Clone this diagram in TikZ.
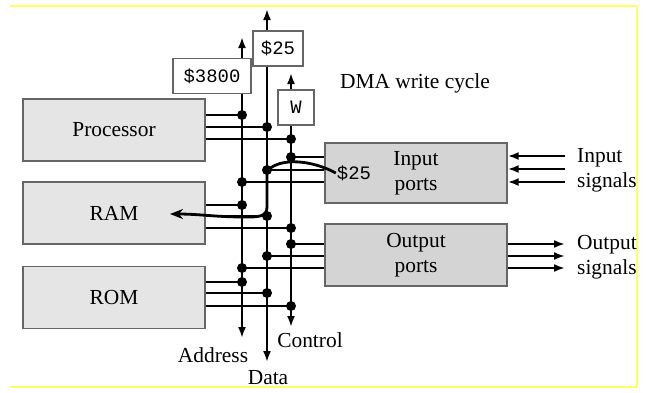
\documentclass[tikz,border=0pt]{standalone}
\usepackage{fontspec}
\setmainfont{Liberation Serif}
\setmonofont{Liberation Mono}
\usetikzlibrary{arrows.meta}
\definecolor{frameYellow}{HTML}{FFFF66}

\begin{document}
\begin{tikzpicture}
[x=1bp,y=-1bp,
  font=\fontsize{21.5}{25}\selectfont,
  boxDecorate/.style={draw=black!60,fill=black!10,line width=1.3bp,minimum width=182bp,minimum height=62bp},
  portDecorate/.style={boxDecorate,fill=black!17,align=center},
  tagDecorate/.style={draw=black!60,fill=white,line width=1.3bp,minimum height=35bp,inner sep=0pt,
    font=\fontsize{19}{22}\selectfont\ttfamily},
  busDecorate/.style={{Latex[length=11bp,width=8bp]}-{Latex[length=11bp,width=8bp]},line width=2.1bp},
  lineDecorate/.style={line width=2.1bp},
  signalDecorate/.style={-{Latex[length=11bp,width=8bp]},line width=2.1bp},
  flowDecorate/.style={-{Stealth[length=13bp,width=10bp]},line width=2.8bp},
  dotDecorate/.style={circle,fill,inner sep=0pt,minimum size=10bp}]
\useasboundingbox (0,0) rectangle (654,392);
%% frame
\draw[frameYellow,line width=2bp] (10,6) -- (637,6) -- (637,387) -- (10,387);
%% units
\foreach \nodename/\nodetext/\y in {
  proc/Processor/130, ram/RAM/213, rom/ROM/297.5}
{
  \node (\nodename) at (114,\y) [boxDecorate] {\nodetext};
}
\node (inp) at (416,173) [portDecorate,minimum height=60bp] {Input\\ports};
\node (outp) at (416,255) [portDecorate] {Output\\ports};
%% buses
\foreach \busname/\x/\ytop/\ybot in {
  addr/242/37/338, data/267/9/362, ctrl/291/73/327}
{
  \coordinate (\busname Top) at (\x,\ytop);
  \coordinate (\busname Bot) at (\x,\ybot);
  \draw[busDecorate] (\busname Bot) -- (\busname Top);
}
\node (tagAddr) at (212,76) [tagDecorate,minimum width=78bp] {\$3800};
\node (tagData) at (278,48.5) [tagDecorate,minimum width=50bp] {\$25};
\node (tagCtrl) at (296,107.5) [tagDecorate,minimum width=36bp] {W};
%% taps from units to buses
\foreach \src/\bus/\y in {
  proc/addr/115, proc/data/127, proc/ctrl/139,
  ram/addr/205, ram/data/216, ram/ctrl/228,
  rom/addr/282, rom/data/293, rom/ctrl/306}
{
  \draw[lineDecorate] (\src.east |- 0,\y) -- (\bus Top |- 0,\y);
  \node at (\bus Top |- 0,\y) [dotDecorate] {};
}
%% taps from buses to ports
\foreach \dst/\bus/\y in {
  inp/ctrl/157, inp/data/170, inp/addr/182,
  outp/ctrl/244, outp/data/256, outp/addr/268}
{
  \draw[lineDecorate] (\bus Top |- 0,\y) -- (\dst.west |- 0,\y);
  \node at (\bus Top |- 0,\y) [dotDecorate] {};
}
%% outside signals
\coordinate (sigEnd) at (565,0);
\foreach \y in {156,169,182}
{
  \draw[signalDecorate] (sigEnd |- 0,\y) -- (inp.east |- 0,\y);
}
\foreach \y in {244,256,268}
{
  \draw[signalDecorate] (outp.east |- 0,\y) -- (sigEnd |- 0,\y);
}
\node (inSig) at (577,170) [anchor=west,align=left,inner sep=0pt] {Input\\signals};
\node (outSig) at (577,257) [anchor=west,align=left,inner sep=0pt] {Output\\signals};
%% labels
\node (addrText) at (213,355) {Address};
\node (dataText) at (268,378) {Data};
\node (ctrlText) at (310,340) {Control};
\node (title) at (415,83) {DMA write cycle};
%% data flow
\node (tagIn) at (354,173) [inner sep=1bp,font=\fontsize{19}{22}\selectfont\ttfamily] {\$25};
\coordinate (ramIn) at (170,214);
\draw[flowDecorate] (tagIn.west) .. controls (312,160) and (280,157) .. (dataTop |- 0,171)
  -- (dataTop |- 0,207) .. controls (267,217) and (258,217) .. (245,217)
  .. controls (215,217) and (200,214) .. (ramIn);
\end{tikzpicture}
\end{document}
